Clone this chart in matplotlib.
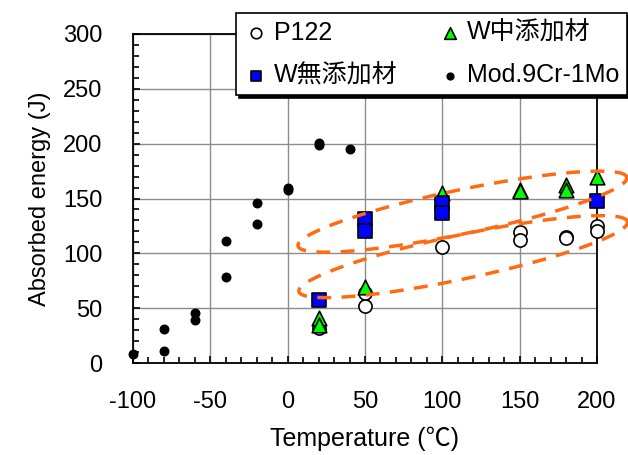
import numpy as np
import matplotlib
matplotlib.use("Agg")
import matplotlib.pyplot as plt
from matplotlib.ticker import MultipleLocator

plt.rcParams['font.family'] = ['Liberation Sans', 'Noto Sans CJK JP', 'DejaVu Sans']
plt.rcParams['axes.unicode_minus'] = False

# Mod.9Cr-1Mo (black dots)
mod_t = [-100, -80, -80, -60, -60, -40, -40, -20, -20, 0, 0, 20, 20, 40]
mod_e = [8, 31, 11, 46, 39, 111, 78, 146, 127, 160, 158, 201, 199, 195]

# P122 (open circles)
p122_t = [20, 50, 50, 100, 150, 150, 180, 180, 200, 200]
p122_e = [32, 52, 64, 106, 119, 112, 115, 114, 125, 120]

# W中添加材 (green triangles)
wmid_t = [20, 20, 50, 100, 150, 150, 180, 180, 200]
wmid_e = [41, 35, 69, 155, 158, 157, 162, 158, 170]

# W無添加材 (blue squares)
wno_t = [20, 50, 50, 100, 100, 200]
wno_e = [57, 131, 120, 146, 137, 148]

labels = ['P122', 'W無添加材', 'W中添加材', 'Mod.9Cr-1Mo']

fig = plt.figure(figsize=(6.28, 4.55), dpi=100)
ax = fig.add_axes([133/628, 1-363/455, (597-133)/628, (363-34)/455])

ax.set_xlim(-100, 200)
ax.set_ylim(0, 300)
ax.xaxis.set_major_locator(MultipleLocator(50))
ax.xaxis.set_minor_locator(MultipleLocator(10))
ax.yaxis.set_major_locator(MultipleLocator(50))
ax.yaxis.set_minor_locator(MultipleLocator(10))
ax.tick_params(which='both', direction='in', labelsize=17, width=1.2)
ax.tick_params(which='major', length=5)
ax.tick_params(which='minor', length=4)
ax.tick_params(axis='x', which='major', pad=20)
ax.tick_params(axis='y', which='major', pad=22)
ax.grid(True, which='major', color='#8c8c8c', linewidth=1)
ax.set_axisbelow(True)
for s in ax.spines.values():
    s.set_linewidth(1.3)
    s.set_color('black')

h1 = ax.scatter(p122_t, p122_e, s=90, marker='o', facecolor='white', edgecolor='black', linewidth=1.2, zorder=3, clip_on=False)
h3 = ax.scatter(wmid_t, wmid_e, s=110, marker='^', facecolor='#00ff00', edgecolor='black', linewidth=1.2, zorder=4, clip_on=False)
h2 = ax.scatter(wno_t, wno_e, s=95, marker='s', facecolor='#0000ff', edgecolor='black', linewidth=1.2, zorder=5, clip_on=False)
h4 = ax.scatter(mod_t, mod_e, s=38, marker='o', facecolor='black', edgecolor='black', zorder=6, clip_on=False)

ax.set_xlabel('Temperature (℃)', fontsize=18, labelpad=10)
ax.set_ylabel('Absorbed energy (J)', fontsize=17, labelpad=9)

# dashed orange ellipses (annotation), sized in pixels, placed in data coords
fig.canvas.draw()
p0 = ax.transData.transform((0, 0))
px_x = ax.transData.transform((1, 0))[0] - p0[0]
px_y = ax.transData.transform((0, 1))[1] - p0[1]
phi = np.linspace(0, 2*np.pi, 300)
for cx, cy, a, b, ang in [(113, 138, 168, 22, 11.8), (113.5, 97, 168, 22, 12.0)]:
    th = np.deg2rad(ang)
    dx = a*np.cos(phi)*np.cos(th) - b*np.sin(phi)*np.sin(th)
    dy = a*np.cos(phi)*np.sin(th) + b*np.sin(phi)*np.cos(th)
    ax.plot(cx + dx/px_x, cy + dy/px_y, color='#ff6a13', lw=2.5,
            linestyle=(0, (4, 3)), zorder=7, clip_on=False)

leg = fig.legend([h1, h2, h3, h4], labels, ncol=2, loc='upper left',
                 bbox_to_anchor=(236/628, 1-13/455), fontsize=18,
                 frameon=True, fancybox=False, edgecolor='black',
                 shadow={'color': 'black', 'alpha': 1},
                 borderaxespad=0,
                 handletextpad=0.2, columnspacing=1.6, borderpad=0.3,
                 labelspacing=0.75, handlelength=1.0, markerscale=0.8)
leg.get_frame().set_linewidth(1.2)

fig.savefig('out.png', dpi=100)
